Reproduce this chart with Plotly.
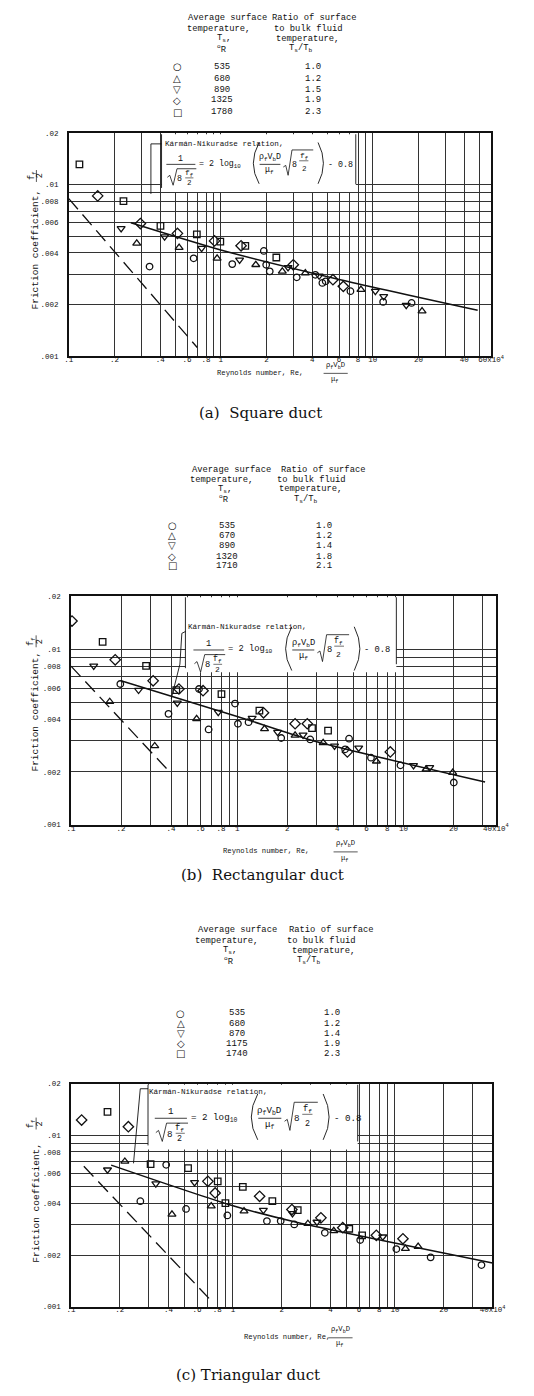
import math
import plotly.graph_objects as go

W, H = 534, 1396

# ---------------- data (Re in units of 10^4, friction coefficient f_f/2) ----------------
# (a) Square duct
a_circle_re = [0.340, 0.663, 1.19, 1.92, 1.99, 2.10, 3.16, 4.19, 4.66, 4.9, 7.13, 11.7, 18.0]
a_circle_f = [0.00333, 0.00372, 0.00344, 0.00411, 0.00341, 0.00312, 0.00288, 0.00298, 0.00267, 0.00273, 0.00239, 0.00207, 0.00204]
a_triup_re = [0.280, 0.532, 0.946, 1.70, 2.54, 3.6, 8.36, 21.1]
a_triup_f = [0.00455, 0.0043, 0.00372, 0.00341, 0.00312, 0.00305, 0.00244, 0.00183]
a_tridown_re = [0.221, 0.427, 0.748, 1.33, 2.77, 4.44, 10.4, 11.8, 16.6]
a_tridown_f = [0.00556, 0.00498, 0.00426, 0.00364, 0.00329, 0.00294, 0.00239, 0.00223, 0.00198]
a_diamond_re = [0.155, 0.296, 0.519, 0.91, 1.36, 3.0, 5.47, 6.4]
a_diamond_f = [0.00861, 0.00594, 0.0052, 0.0047, 0.0044, 0.00341, 0.00279, 0.00255]
a_square_re = [0.1175, 0.229, 0.401, 0.696, 0.993, 1.45, 2.32]
a_square_f = [0.01315, 0.00802, 0.00576, 0.00513, 0.00465, 0.0044, 0.00376]
a_kn_re = [0.256, 1.0, 6.0, 49.0]
a_kn_f = [0.0060, 0.00416, 0.0028, 0.00185]
a_lam_re = [0.1, 0.70]
a_lam_f = [0.0083, 0.00112]
a_temps = ["535", "680", "890", "1325", "1780"]
a_ratios = ["1.0", "1.2", "1.5", "1.9", "2.3"]

# (b) Rectangular duct
b_circle_re = [0.198, 0.386, 0.589, 0.673, 0.97, 1.01, 1.17, 1.84, 2.75, 4.71, 4.46, 6.38, 9.6, 20.1]
b_circle_f = [0.00633, 0.00428, 0.00593, 0.00349, 0.0049, 0.00376, 0.00384, 0.00312, 0.00306, 0.00309, 0.00269, 0.00241, 0.00218, 0.00174]
b_triup_re = [0.171, 0.319, 0.57, 1.46, 2.23, 3.29, 6.88, 13.7, 19.8]
b_triup_f = [0.00502, 0.00281, 0.00401, 0.00352, 0.00323, 0.00293, 0.0023, 0.00207, 0.00198]
b_tridown_re = [0.137, 0.255, 0.436, 0.769, 1.23, 1.75, 2.49, 3.85, 5.38, 11.5, 14.4]
b_tridown_f = [0.00803, 0.00585, 0.00494, 0.00438, 0.00405, 0.00337, 0.00325, 0.00281, 0.00274, 0.00218, 0.00212]
b_diamond_re = [0.1014, 0.1845, 0.312, 0.446, 0.623, 1.44, 2.23, 2.64, 4.6, 8.34]
b_diamond_f = [0.01445, 0.00869, 0.0066, 0.00593, 0.0058, 0.00434, 0.00376, 0.00376, 0.0026, 0.0026]
b_square_re = [0.155, 0.283, 0.43, 0.804, 1.36, 2.82, 3.52]
b_square_f = [0.011, 0.00803, 0.00585, 0.00555, 0.00447, 0.00355, 0.00344]
b_kn_re = [0.2, 1.0, 2.9, 31.0]
b_kn_f = [0.0066, 0.00414, 0.0030, 0.00175]
b_lam_re = [0.1, 0.40]
b_lam_f = [0.0080, 0.00196]
b_temps = ["535", "670", "890", "1320", "1710"]
b_ratios = ["1.0", "1.2", "1.4", "1.8", "2.1"]

# (c) Triangular duct
c_circle_re = [0.268, 0.387, 0.513, 0.923, 1.62, 1.97, 2.39, 3.69, 6.10, 10.2, 16.6, 34.2]
c_circle_f = [0.00413, 0.00673, 0.00372, 0.00341, 0.00316, 0.00316, 0.00302, 0.0027, 0.00245, 0.00217, 0.00194, 0.00175]
c_triup_re = [0.215, 0.42, 0.734, 1.17, 2.90, 4.19, 11.6, 13.9]
c_triup_f = [0.00704, 0.00346, 0.00386, 0.00361, 0.00305, 0.00277, 0.00218, 0.00224]
c_tridown_re = [0.168, 0.334, 0.579, 1.54, 2.33, 3.30, 8.41]
c_tridown_f = [0.0063, 0.00523, 0.00532, 0.00366, 0.0035, 0.00312, 0.00256]
c_diamond_re = [0.1163, 0.226, 0.70, 0.776, 1.46, 2.31, 3.49, 4.76, 7.67, 11.2]
c_diamond_f = [0.01228, 0.01123, 0.00539, 0.00461, 0.00441, 0.00369, 0.0033, 0.00289, 0.00261, 0.00249]
c_square_re = [0.168, 0.310, 0.528, 0.805, 0.898, 1.15, 1.75, 2.51, 5.22, 6.27]
c_square_f = [0.01371, 0.00679, 0.00644, 0.00539, 0.00402, 0.005, 0.00413, 0.00366, 0.00285, 0.00261]
c_kn_re = [0.177, 0.94, 2.5, 40.0]
c_kn_f = [0.0067, 0.00395, 0.0031, 0.0018]
c_lam_re = [0.12, 0.75]
c_lam_f = [0.0066, 0.00106]
c_temps = ["535", "680", "870", "1175", "1740"]
c_ratios = ["1.0", "1.2", "1.4", "1.9", "2.3"]

# tick labels / grid
y_tick_vals = [0.001, 0.002, 0.004, 0.006, 0.008, 0.01, 0.02]
y_tick_text = [".001", ".002", ".004", ".006", ".008", ".01", ".02"]
y_grid = [0.002, 0.003, 0.004, 0.005, 0.006, 0.007, 0.008, 0.009, 0.01]
x_tick_vals_common = [0.1, 0.2, 0.4, 0.6, 0.8, 1, 2, 4, 6, 8, 10, 20]
x_tick_text_common = [".1", ".2", ".4", ".6", ".8", "1", "2", "4", "6", "8", "10", "20"]
x_grid_common = [0.2, 0.3, 0.4, 0.5, 0.6, 0.7, 0.8, 0.9, 1, 2, 3, 4, 5, 6, 7, 8, 9, 10, 20, 30]
a_x_extra_vals = [40, 50, 60]
a_x_extra_text = ["40", "", "60x10<sup>4</sup>"]
b_x_extra_vals = [36]
b_x_extra_text = ["40x10<sup>4</sup>"]
c_x_extra_vals = [40]
c_x_extra_text = ["40x10<sup>4</sup>"]

captions = ["(a)  Square duct", "(b)  Rectangular duct", "(c) Triangular duct"]

# ---------------- layout geometry (pixels) ----------------
panels = [
    dict(ax="", xl=66, xr=503, yt=131, yb=355, xmax=60,
         series=[(a_circle_re, a_circle_f), (a_triup_re, a_triup_f), (a_tridown_re, a_tridown_f),
                 (a_diamond_re, a_diamond_f), (a_square_re, a_square_f)],
         kn=(a_kn_re, a_kn_f), lam=(a_lam_re, a_lam_f),
         xextra=(a_x_extra_vals, a_x_extra_text), temps=a_temps, ratios=a_ratios,
         box=(162, 363, 132, 190), title=(165, 141.7), eq=(167, 162.3, 1.0),
         leader=[(162, 141.7), (151, 141.7), (151, 192)],
         leg=dict(h1=[(230, "Average surface"), (221, "temperature,"), (226.7, "T<sub>s</sub>,"), (225, "<sup>o</sup>R")],
                  h2=[(320, "Ratio of surface"), (314, "to bulk fluid"), (312.7, "temperature,"), (306.7, "T<sub>s</sub>/T<sub>b</sub>")],
                  hy=[15, 26, 36, 46], rows=[64, 76, 87, 98, 110], sx=178, tx=224.5, rx=318.3),
         ytitle=(32, 248, 174), xtitle=(218, 371.7, 341.7), caption=(264, 412)),
    dict(ax="2", xl=68.3, xr=508, yt=596.7, yb=826.5, xmax=36,
         series=[(b_circle_re, b_circle_f), (b_triup_re, b_triup_f), (b_tridown_re, b_tridown_f),
                 (b_diamond_re, b_diamond_f), (b_square_re, b_square_f)],
         kn=(b_kn_re, b_kn_f), lam=(b_lam_re, b_lam_f),
         xextra=(b_x_extra_vals, b_x_extra_text), temps=b_temps, ratios=b_ratios,
         box=(186.7, 405, 597.7, 673), title=(188.3, 628), eq=(195, 650.7, 1.06),
         leader=[(187, 632), (183, 634), (181, 665), (172, 700)],
         leg=dict(h1=[(234, "Average surface"), (224, "temperature,"), (228, "T<sub>s</sub>,"), (227, "<sup>o</sup>R")],
                  h2=[(329, "Ratio of surface"), (316.7, "to bulk fluid"), (316, "temperature,"), (311, "T<sub>s</sub>/T<sub>b</sub>")],
                  hy=[469.3, 480, 489.3, 499.3], rows=[526, 536, 546, 556.7, 566], sx=173.3, tx=230, rx=330),
         ytitle=(31.7, 713, 642), xtitle=(225, 853, 352), caption=(266, 877)),
    dict(ax="3", xl=68.3, xr=504.5, yt=1087, yb=1311.2, xmax=40,
         series=[(c_circle_re, c_circle_f), (c_triup_re, c_triup_f), (c_tridown_re, c_tridown_f),
                 (c_diamond_re, c_diamond_f), (c_square_re, c_square_f)],
         kn=(c_kn_re, c_kn_f), lam=(c_lam_re, c_lam_f),
         xextra=(c_x_extra_vals, c_x_extra_text), temps=c_temps, ratios=c_ratios,
         box=(148, 365, 1088, 1153), title=(148.3, 1095), eq=(155, 1121.7, 1.11),
         leader=[(148, 1092), (140, 1092), (133, 1167)],
         leg=dict(h1=[(240.3, "Average surface"), (229, "temperature,"), (233, "T<sub>s</sub>,"), (232, "<sup>o</sup>R")],
                  h2=[(337.5, "Ratio of surface"), (328, "to bulk fluid"), (330, "temperature,"), (315, "T<sub>s</sub>/T<sub>b</sub>")],
                  hy=[932.7, 943.3, 953.3, 963.3], rows=[1016, 1026.7, 1036.7, 1046.7, 1056.7], sx=181.7, tx=240, rx=338.3),
         ytitle=(31.7, 1207, 1127), xtitle=(246.7, 1341.7, 346.7), caption=(251, 1380)),
]

symbols = ["circle-open", "triangle-up-open", "triangle-down-open", "diamond-open", "square-open"]
sizes = [6.5, 7, 7, 8, 6.5]
glyphs = ["○", "△", "▽", "◇", "□"]

MONO = "Liberation Mono"
INK = "#111"

fig = go.Figure()
ann = []
shapes = []


def X(x):
    return x / W


def Y(y):
    return 1 - y / H


def text(x, y, s, size=8, family=MONO, xanchor="center", angle=0):
    ann.append(dict(x=X(x), y=Y(y), xref="paper", yref="paper", text=s, showarrow=False,
                    xanchor=xanchor, yanchor="middle", textangle=angle, borderpad=0,
                    font=dict(family=family, size=size, color=INK)))


def pline(pts, width=0.9):
    d = "M " + " L ".join(f"{X(a):.5f},{Y(b):.5f}" for a, b in pts)
    shapes.append(dict(type="path", path=d, xref="paper", yref="paper", layer="above",
                       line=dict(color=INK, width=width)))


def qcurve(p0, c, p1, width=0.9):
    d = (f"M {X(p0[0]):.5f},{Y(p0[1]):.5f} Q {X(c[0]):.5f},{Y(c[1]):.5f} "
         f"{X(p1[0]):.5f},{Y(p1[1]):.5f}")
    shapes.append(dict(type="path", path=d, xref="paper", yref="paper", layer="above",
                       line=dict(color=INK, width=width)))


def equation(ex, ey, s):
    def P(dx, dy):
        return (ex + dx * s, ey + dy * s)
    fs = 8.3 * s
    text(*P(14.7, -6), "1", fs)
    pline([P(0, 0), P(30, 0)], 0.8)
    pline([P(1, 13), P(3.5, 11), P(7, 21), P(11, 4.4), P(31, 4.4)], 0.8)
    text(*P(14, 14.5), "8", fs)
    text(*P(23.5, 9.3), "f<sub>f</sub>", fs * 0.95)
    pline([P(19.5, 13.6), P(28, 13.6)], 0.6)
    text(*P(23.5, 18.5), "2", fs * 0.9)
    text(*P(33, 0), "= 2 log<sub>10</sub>", fs, xanchor="left")
    qcurve(P(96, -22), P(84, -1), P(96, 19.5), 0.9)
    text(*P(107, -6.6), "ρ<sub>f</sub>V<sub>b</sub>D", fs)
    pline([P(96.5, 0), P(118, 0)], 0.8)
    text(*P(107, 6.2), "μ<sub>f</sub>", fs)
    pline([P(121, 2.7), P(123.5, 1), P(126, 11), P(130, -14.5), P(152, -14.5)], 0.8)
    text(*P(133, 0), "8", fs)
    text(*P(142, -8.3), "f<sub>f</sub>", fs * 0.95)
    pline([P(137.5, -3.6), P(147, -3.6)], 0.6)
    text(*P(142, 4.6), "2", fs * 0.9)
    qcurve(P(157, -22), P(168, -1), P(157, 19.5), 0.9)
    text(*P(166, 0), "- 0.8", fs, xanchor="left")


layout_axes = {}
for p in panels:
    ax = p["ax"]
    xa_name = "xaxis" + ax
    ya_name = "yaxis" + ax
    xref = "x" + ax
    yref = "y" + ax

    # data series
    for (re, ff), sym, sz in zip(p["series"], symbols, sizes):
        fig.add_trace(go.Scatter(x=re, y=ff, mode="markers", xaxis=xref, yaxis=yref,
                                 marker=dict(symbol=sym, size=sz, color=INK, line=dict(width=1.3)),
                                 hoverinfo="skip"))
    fig.add_trace(go.Scatter(x=p["kn"][0], y=p["kn"][1], mode="lines", xaxis=xref, yaxis=yref,
                             line=dict(color=INK, width=1.5, shape="spline", smoothing=0.6),
                             hoverinfo="skip"))
    fig.add_trace(go.Scatter(x=p["lam"][0], y=p["lam"][1], mode="lines", xaxis=xref, yaxis=yref,
                             line=dict(color=INK, width=1.3, dash="14px,7px"), hoverinfo="skip"))

    # ticks & grid
    labeled = dict(zip(x_tick_vals_common, x_tick_text_common))
    labeled.update(dict(zip(*p["xextra"])))
    xvals = sorted(set(x_grid_common) | set(labeled) | {0.1})
    xvals = [v for v in xvals if v <= p["xmax"] + 1e-9]
    xtext = [labeled.get(v, "") for v in xvals]
    ylab = dict(zip(y_tick_vals, y_tick_text))
    yvals = sorted(set(y_grid) | set(ylab))
    ytext = [ylab.get(v, "") for v in yvals]

    common = dict(type="log", showgrid=True, gridcolor="#333", gridwidth=0.8, showline=True,
                  mirror=True, linecolor=INK, linewidth=1.6, ticks="", zeroline=False,
                  tickfont=dict(family=MONO, size=7.5, color=INK), fixedrange=True)
    layout_axes[xa_name] = dict(common, range=[-1, math.log10(p["xmax"])],
                                domain=[X(p["xl"]), X(p["xr"])], anchor=yref,
                                tickvals=xvals, ticktext=xtext, tickangle=0,
                                ticklabelstandoff=-5)
    layout_axes[ya_name] = dict(common, range=[-3, math.log10(0.02)],
                                domain=[Y(p["yb"]), Y(p["yt"])], anchor=xref,
                                tickvals=yvals, ticktext=ytext, ticklabelstandoff=7)

    # white box for the relation (covers the grid)
    bx0, bx1, by0, by1 = p["box"]
    shapes.append(dict(type="rect", xref="paper", yref="paper",
                       x0=X(bx0), x1=X(bx1), y0=Y(by1), y1=Y(by0),
                       fillcolor="white", line=dict(width=0), layer="above"))
    pline([(bx0, by0), (bx0, by1 - 4)], 0.9)
    pline([(bx1, by0), (bx1, by1 - 8)], 0.9)

    # leader line
    pline(p["leader"], 0.9)

    # relation text + equation
    text(p["title"][0], p["title"][1], "Kármán-Nikuradse relation,", 7.6, xanchor="left")
    equation(*p["eq"])

    # legend (text table)
    lg = p["leg"]
    for (cx, s), yy in zip(lg["h1"], lg["hy"]):
        text(cx, yy, s, 8.8)
    for (cx, s), yy in zip(lg["h2"], lg["hy"]):
        text(cx, yy, s, 8.8)
    for g, t, r, yy in zip(glyphs, p["temps"], p["ratios"], lg["rows"]):
        text(lg["sx"], yy, g, 10, family="DejaVu Sans")
        text(lg["tx"], yy, t, 9)
        text(lg["rx"], yy, r, 9)

    # y-axis title
    yx, yc, yf = p["ytitle"]
    text(yx, yc, "Friction coefficient,", 9.5, angle=-90)
    text(yx - 4, yf, "f<sub>f</sub>", 8.5, angle=-90)
    text(yx + 4.5, yf, "2", 8.5, angle=-90)
    pline([(yx + 0.5, yf - 6), (yx + 0.5, yf + 6)], 0.7)

    # x-axis title
    tx, ty, fx = p["xtitle"]
    text(tx, ty, "Reynolds number, Re,", 7.2, xanchor="left")
    text(fx, ty - 7, "ρ<sub>f</sub>V<sub>b</sub>D", 7.2)
    pline([(fx - 12, ty + 0.8), (fx + 13, ty + 0.8)], 0.7)
    text(fx - 1, ty + 7.5, "μ<sub>f</sub>", 7.2)

for p, cap in zip(panels, captions):
    text(p["caption"][0], p["caption"][1], cap, 15, family="DejaVu Serif")

fig.update_layout(width=W, height=H, autosize=False, margin=dict(l=0, r=0, t=0, b=0),
                  paper_bgcolor="white", plot_bgcolor="white", showlegend=False,
                  annotations=ann, shapes=shapes, **layout_axes)

post = ("document.documentElement.style.overflow='hidden';"
        "document.body.style.margin='0px';document.body.style.padding='0px';"
        "document.body.style.overflow='hidden';")
fig.write_html("out.html", config={"displayModeBar": False, "responsive": False},
               post_script=post)
